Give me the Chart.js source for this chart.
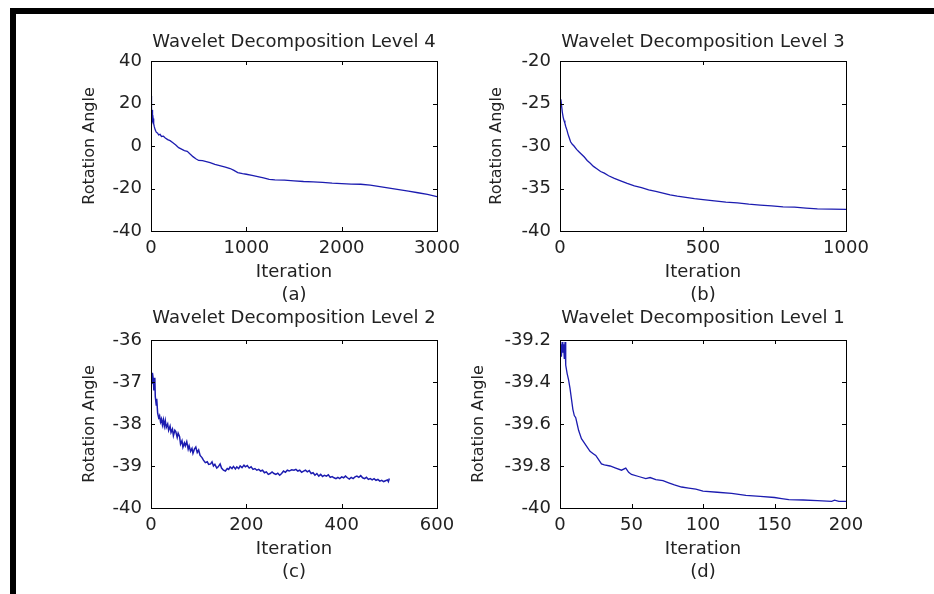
<!DOCTYPE html>
<html>
<head>
<meta charset="utf-8">
<script src="https://cdn.jsdelivr.net/npm/chart.js@4/dist/chart.umd.min.js"></script>
<style>
  body { margin: 0; width: 934px; height: 594px; background: #fff; overflow: hidden; position: relative; }
  #frame { position: absolute; left: 10px; top: 8px; right: 0; bottom: 0; border-top: 6px solid #000; border-left: 6px solid #000; }
  canvas { position: absolute; }
</style>
</head>
<body>
<div id="frame"></div>
<canvas id="chartA" width="430" height="294" style="left:40px;top:14px"></canvas>
<canvas id="chartB" width="430" height="294" style="left:449px;top:14px"></canvas>
<canvas id="chartC" width="430" height="294" style="left:40px;top:293px"></canvas>
<canvas id="chartD" width="430" height="294" style="left:449px;top:293px"></canvas>
<script>
'use strict'

// level 4 (a)
const level4Iter = [0, 3, 5, 8, 12, 16, 22, 28, 35, 45, 55, 70, 80, 95, 110, 130, 150, 175, 200, 230, 260, 290, 320, 350, 380, 410, 440, 470, 500, 540, 580, 620, 670, 720, 780, 830, 870, 910, 960, 1000, 1060, 1120, 1180, 1240, 1300, 1400, 1500, 1600, 1700, 1800, 1900, 2000, 2100, 2200, 2300, 2400, 2500, 2600, 2700, 2800, 2900, 3000];
const level4Angle = [23.5, 18, 22, 15, 17, 12, 13, 10.5, 9, 7.5, 6.5, 6, 5.2, 5.5, 4.5, 4.6, 3.8, 3, 2.5, 1.5, 0.5, -0.8, -1.5, -2.2, -2.5, -3.8, -5, -6, -6.8, -6.9, -7.3, -7.8, -8.6, -9.2, -9.9, -10.6, -11.5, -12.5, -13, -13.3, -13.8, -14.4, -15, -15.7, -15.9, -16.1, -16.4, -16.7, -16.9, -17.1, -17.5, -17.7, -17.9, -18.0, -18.4, -19.1, -19.8, -20.5, -21.2, -22, -22.8, -23.8];

// level 3 (b)
const level3Iter = [0, 3, 5, 8, 11, 14, 17, 20, 24, 28, 32, 37, 43, 49, 58, 67, 76, 85, 95, 105, 117, 130, 142, 155, 170, 190, 212, 235, 260, 285, 310, 335, 360, 385, 410, 440, 470, 500, 540, 580, 620, 660, 700, 740, 780, 820, 860, 900, 950, 1000];
const level3Angle = [-24.7, -24.5, -25.1, -26.0, -26.6, -27.0, -27.3, -27.7, -28.1, -28.6, -29.0, -29.5, -29.8, -30.0, -30.4, -30.7, -31.0, -31.3, -31.7, -32.0, -32.4, -32.7, -33.0, -33.2, -33.5, -33.8, -34.1, -34.4, -34.7, -34.9, -35.15, -35.35, -35.55, -35.75, -35.9, -36.05, -36.2, -36.3, -36.45, -36.6, -36.7, -36.85, -36.95, -37.05, -37.15, -37.2, -37.3, -37.4, -37.42, -37.45];

// level 2 (c)
const level2Iter = [0, 2, 3, 5, 6, 8, 9, 11, 12, 14, 16, 18, 20, 22, 24, 26, 28, 30, 32, 35, 37, 40, 42, 45, 47, 50, 52, 55, 57, 60, 62, 65, 67, 70, 72, 75, 78, 80, 83, 86, 88, 91, 94, 97, 100, 103, 107, 110, 114, 118, 121, 125, 128, 131, 134, 138, 141, 145, 148, 152, 156, 160, 163, 166, 170, 173, 177, 180, 184, 187, 191, 195, 198, 202, 206, 210, 214, 218, 222, 226, 230, 234, 238, 242, 246, 250, 254, 258, 262, 266, 270, 274, 278, 282, 286, 290, 295, 300, 304, 308, 312, 316, 320, 324, 328, 332, 336, 340, 344, 348, 352, 356, 360, 364, 368, 372, 376, 380, 384, 388, 392, 396, 400, 404, 408, 412, 416, 420, 424, 428, 432, 436, 440, 444, 448, 452, 456, 460, 464, 468, 472, 476, 480, 484, 488, 492, 496, 498, 500];
const level2Angle = [-36.80, -37.05, -36.78, -36.95, -37.20, -36.90, -37.35, -37.55, -37.40, -37.75, -37.85, -37.80, -37.95, -37.88, -38.02, -37.90, -38.05, -37.92, -38.08, -38.00, -38.15, -38.05, -38.20, -38.12, -38.28, -38.15, -38.18, -38.32, -38.22, -38.30, -38.48, -38.40, -38.55, -38.45, -38.52, -38.42, -38.60, -38.52, -38.65, -38.58, -38.70, -38.60, -38.55, -38.68, -38.62, -38.75, -38.80, -38.86, -38.92, -38.90, -38.96, -38.95, -38.90, -39.00, -38.96, -39.05, -39.02, -38.95, -39.05, -39.10, -39.12, -39.06, -39.08, -39.02, -39.06, -39.01, -39.07, -39.02, -39.06, -39.00, -39.04, -38.98, -39.02, -38.99, -39.05, -39.02, -39.08, -39.06, -39.10, -39.08, -39.12, -39.10, -39.16, -39.14, -39.20, -39.18, -39.14, -39.18, -39.20, -39.17, -39.22, -39.18, -39.12, -39.15, -39.10, -39.12, -39.09, -39.10, -39.08, -39.12, -39.10, -39.15, -39.12, -39.10, -39.14, -39.11, -39.18, -39.16, -39.22, -39.18, -39.24, -39.20, -39.25, -39.22, -39.24, -39.21, -39.27, -39.25, -39.28, -39.30, -39.27, -39.30, -39.26, -39.28, -39.24, -39.28, -39.31, -39.27, -39.30, -39.26, -39.24, -39.27, -39.23, -39.28, -39.30, -39.27, -39.32, -39.30, -39.33, -39.30, -39.34, -39.32, -39.36, -39.34, -39.37, -39.35, -39.33, -39.37, -39.30];

// level 1 (d)
const level1Iter = [0, 0.5, 1, 1.5, 2, 2.5, 3, 3.5, 4, 5, 6, 7, 8, 9, 10, 11, 12, 13, 14, 15, 17, 19, 21, 23, 25, 27, 29, 31, 35, 39, 43, 46, 48, 50, 55, 60, 63, 67, 72, 76, 80, 85, 90, 95, 100, 110, 120, 130, 140, 150, 155, 160, 170, 180, 190, 192, 195, 200];
const level1Angle = [-39.27, -39.22, -39.28, -39.21, -39.26, -39.22, -39.29, -39.21, -39.32, -39.36, -39.39, -39.43, -39.48, -39.53, -39.56, -39.57, -39.60, -39.63, -39.65, -39.67, -39.69, -39.71, -39.73, -39.74, -39.75, -39.77, -39.79, -39.795, -39.80, -39.81, -39.82, -39.81, -39.83, -39.84, -39.85, -39.86, -39.855, -39.865, -39.87, -39.88, -39.89, -39.90, -39.905, -39.91, -39.92, -39.925, -39.93, -39.94, -39.945, -39.95, -39.955, -39.96, -39.962, -39.965, -39.968, -39.963, -39.968, -39.968];

const FONT = 'DejaVu Sans';
const TEXT = '#222';
const LINE = '#1c1cb0';

// MATLAB style box with inward ticks on all four sides
const boxTicks = {
  id: 'boxTicks',
  afterDraw(chart) {
    const ctx = chart.ctx;
    const a = chart.chartArea;
    const len = 4;
    ctx.save();
    ctx.strokeStyle = '#000';
    ctx.lineWidth = 1;
    ctx.strokeRect(Math.round(a.left) + 0.5, Math.round(a.top) + 0.5, Math.round(a.right - a.left), Math.round(a.bottom - a.top));
    ctx.beginPath();
    chart.scales.x.ticks.forEach(t => {
      let px = Math.round(chart.scales.x.getPixelForValue(t.value)) + 0.5;
      ctx.moveTo(px, a.bottom); ctx.lineTo(px, a.bottom - len);
      ctx.moveTo(px, a.top); ctx.lineTo(px, a.top + len);
    });
    chart.scales.y.ticks.forEach(t => {
      let py = Math.round(chart.scales.y.getPixelForValue(t.value)) + 0.5;
      ctx.moveTo(a.left, py); ctx.lineTo(a.left + len, py);
      ctx.moveTo(a.right, py); ctx.lineTo(a.right - len, py);
    });
    ctx.stroke();
    ctx.restore();
  }
};

function makePoints(xs, ys) {
  let pts = [];
  for (let i = 0; i < xs.length; i++) {
    pts.push({x: xs[i], y: ys[i]});
  }
  return pts;
}

function makeChart(id, cfg) {
  return new Chart(document.getElementById(id), {
    type: 'line',
    data: {
      datasets: [{
        data: makePoints(cfg.xs, cfg.ys),
        borderColor: LINE,
        borderWidth: cfg.lineWidth,
        pointRadius: 0,
        tension: 0,
        fill: false
      }]
    },
    options: {
      responsive: false,
      animation: false,
      devicePixelRatio: 1,
      layout: { padding: { left: 0, right: 33, top: 0, bottom: 0 } },
      plugins: {
        legend: { display: false },
        tooltip: { enabled: false },
        title: {
          display: true,
          text: cfg.title,
          fullSize: false,
          color: TEXT,
          font: { family: FONT, size: 18, weight: 'normal', lineHeight: 1.2 },
          padding: { top: cfg.titleTop, bottom: 47 - cfg.titleTop - 21.6 }
        }
      },
      scales: {
        x: {
          type: 'linear',
          min: cfg.xMin,
          max: cfg.xMax,
          grid: { display: false, drawTicks: false },
          border: { display: false },
          ticks: {
            stepSize: cfg.xStep,
            padding: 7,
            color: TEXT,
            maxRotation: 0,
            font: { family: FONT, size: 18 },
            callback: v => String(v)
          },
          title: {
            display: true,
            text: ['Iteration', cfg.tag],
            color: TEXT,
            font: { family: FONT, size: 18, lineHeight: '23px' },
            padding: { top: 0, bottom: cfg.xTitleBottom }
          },
          afterFit: s => { s.height = cfg.xHeight; }
        },
        y: {
          min: cfg.yMin,
          max: cfg.yMax,
          grid: { display: false, drawTicks: false },
          border: { display: false },
          ticks: {
            stepSize: cfg.yStep,
            padding: 9,
            color: TEXT,
            font: { family: FONT, size: 18 },
            callback: v => String(Math.round(v * 10) / 10)
          },
          title: {
            display: true,
            text: 'Rotation Angle',
            color: TEXT,
            font: { family: FONT, size: 16, lineHeight: 1.2 },
            padding: { top: cfg.yTitleTop, bottom: 0 }
          },
          afterFit: s => { s.width = 111; }
        }
      }
    },
    plugins: [boxTicks]
  });
}

makeChart('chartA', {
  xs: level4Iter, ys: level4Angle, lineWidth: 1.3,
  title: 'Wavelet Decomposition Level 4', tag: '(a)', titleTop: 17.5,
  xMin: 0, xMax: 3000, xStep: 1000, yMin: -40, yMax: 40, yStep: 20,
  xHeight: 77, xTitleBottom: 1.5, yTitleTop: 40.4
});

makeChart('chartB', {
  xs: level3Iter, ys: level3Angle, lineWidth: 1.3,
  title: 'Wavelet Decomposition Level 3', tag: '(b)', titleTop: 17.5,
  xMin: 0, xMax: 1000, xStep: 500, yMin: -40, yMax: -20, yStep: 5,
  xHeight: 77, xTitleBottom: 1.5, yTitleTop: 38.4
});

makeChart('chartC', {
  xs: level2Iter, ys: level2Angle, lineWidth: 1.5,
  title: 'Wavelet Decomposition Level 2', tag: '(c)', titleTop: 14.5,
  xMin: 0, xMax: 600, xStep: 200, yMin: -40, yMax: -36, yStep: 1,
  xHeight: 79, xTitleBottom: 3.5, yTitleTop: 40.4
});

makeChart('chartD', {
  xs: level1Iter, ys: level1Angle, lineWidth: 1.3,
  title: 'Wavelet Decomposition Level 1', tag: '(d)', titleTop: 14.5,
  xMin: 0, xMax: 200, xStep: 50, yMin: -40, yMax: -39.2, yStep: 0.2,
  xHeight: 79, xTitleBottom: 3.5, yTitleTop: 20.4
});
</script>
</body>
</html>
